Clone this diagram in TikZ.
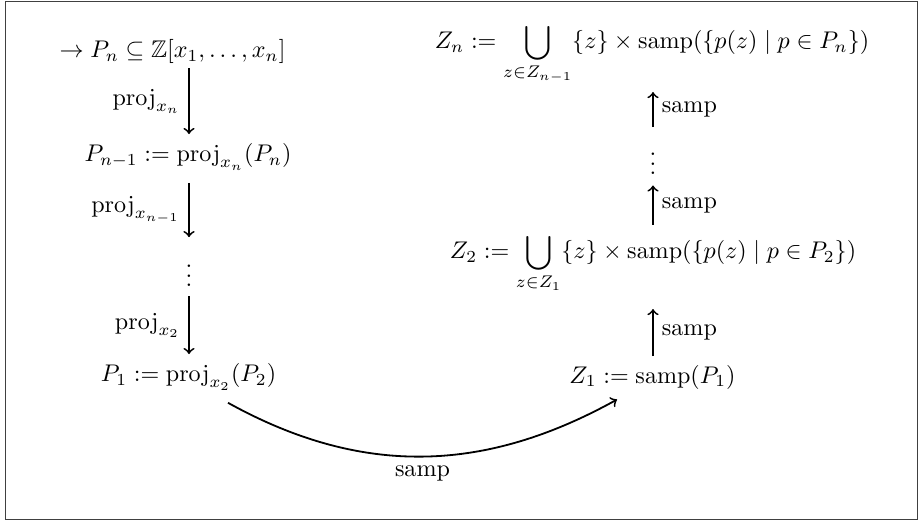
\documentclass[tikz,border=0pt]{standalone}
\usepackage{amsmath,amssymb}
\usetikzlibrary{calc}
\newcommand{\vdt}{\vbox{\baselineskip4pt\lineskiplimit0pt\hbox{.}\hbox{.}\hbox{.}}}
\begin{document}
\begin{tikzpicture}[x=0.415pt,y=-0.415pt,
  obj/.style={inner sep=0pt, anchor=base},
  arr/.style={->, line width=0.75pt},
  lab/.style={inner sep=3.33pt}]
\useasboundingbox (0,0) rectangle (919,521);
\draw[black!75, line width=0.6pt] (5.5,1.5) rectangle (917.5,519.5);

% left column
\node[obj] (pn)  at (172.5,58) {$\rightarrow P_n \subseteq \mathbb{Z}[x_1,\dots,x_n]$};
\node[obj] (pm1) at (188,162) {$P_{n-1} := \mathrm{proj}_{x_n}(P_n)$};
\node[obj] (vl)  at (189,287) {\vdt};
\node[obj] (p1)  at (188.5,382) {$P_1 := \mathrm{proj}_{x_2}(P_2)$};

% right column
\node[obj] (zn) at (652,49) {$Z_n := \displaystyle\bigcup_{z\in Z_{n-1}} \{z\}\times\mathrm{samp}(\{p(z)\mid p\in P_n\})$};
\node[obj] (vr) at (653,175) {\vdt};
\node[obj] (z2) at (653,259) {$Z_2 := \displaystyle\bigcup_{z\in Z_1} \{z\}\times\mathrm{samp}(\{p(z)\mid p\in P_2\})$};
\node[obj] (z1) at (652.5,383) {$Z_1 := \mathrm{samp}(P_1)$};

% left arrows
\draw[arr] ($(pn.south -| vl)+(0,4)$) -- ($(pm1.north -| vl)+(0,-9.4)$)
  node[midway,left,lab] {$\mathrm{proj}_{x_n}$};
\draw[arr] ($(pm1.south -| vl)+(0,12)$) -- ($(vl.north)+(0,-27.6)$)
  node[midway,left,lab] {$\mathrm{proj}_{x_{n-1}}$};
\draw[arr] ($(vl.south)+(0,9)$) -- ($(p1.north -| vl)+(0,-9.4)$)
  node[midway,left,lab] {$\mathrm{proj}_{x_2}$};

% right arrows
\draw[arr] ($(vr.north)+(0,-25.6)$) -- ($(zn.south -| vr)+(0,7)$)
  node[midway,right,lab] {samp};
\draw[arr] ($(z2.north -| vr)+(0,-8.7)$) -- ($(vr.south)+(0,10)$)
  node[midway,right,lab] {samp};
\draw[arr] ($(z1.north -| vr)+(0,-8.4)$) -- ($(z2.south -| vr)+(0,16)$)
  node[midway,right,lab] {samp};

% bent arrow
\draw[arr] ($(p1.south)+(39.5,12)$) to[out=-29,in=209]
  node[below,lab] {samp} ($(z1.south)+(-35.5,10)$);
\end{tikzpicture}
\end{document}
